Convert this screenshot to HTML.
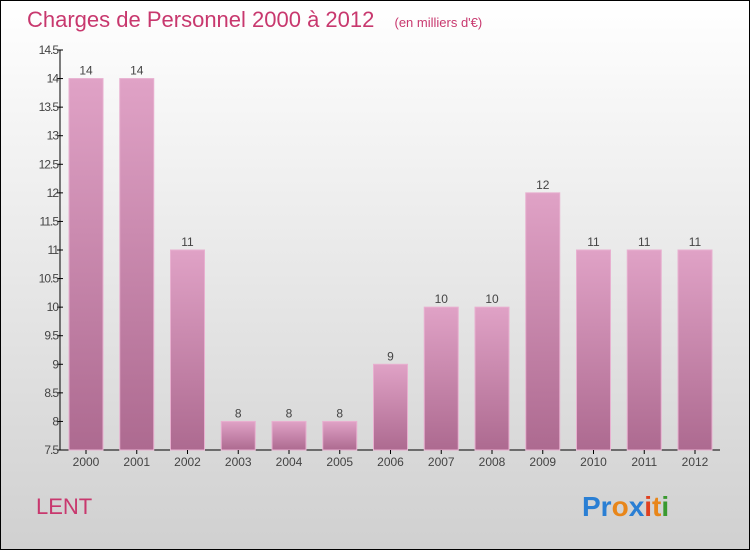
<!DOCTYPE html>
<html><head><meta charset="utf-8"><style>
html,body{margin:0;padding:0}
body{width:750px;height:550px;overflow:hidden;font-family:"Liberation Sans",sans-serif}
</style></head><body>
<svg id="chart" width="750" height="550" xmlns="http://www.w3.org/2000/svg">
<defs>
<linearGradient id="bg" x1="0" y1="0" x2="0" y2="1"><stop offset="0" stop-color="#ffffff"/><stop offset="1" stop-color="#d0d0d0"/></linearGradient>
<linearGradient id="bar" x1="0" y1="0" x2="0" y2="1"><stop offset="0" stop-color="#e0a2c6"/><stop offset="1" stop-color="#ad6a90"/></linearGradient>
</defs>
<rect x="0.5" y="0.5" width="749" height="549" fill="url(#bg)" stroke="#000"/>
<text x="27" y="27" font-size="22" fill="#c8386e">Charges de Personnel 2000 à 2012 <tspan font-size="13" dx="14">(en milliers d'€)</tspan></text>
<g id="plot"></g>
<text x="36" y="514" font-size="22" fill="#c8386e">LENT</text>
<text x="582" y="516" font-size="28" font-weight="bold"><tspan fill="#2a7fd4">Pr</tspan><tspan fill="#e8861a">o</tspan><tspan fill="#2a7fd4">x</tspan><tspan fill="#e04020">i</tspan><tspan fill="#e8861a">t</tspan><tspan fill="#3a9a30">i</tspan></text>
</svg>
<script>
const years=["2000","2001","2002","2003","2004","2005","2006","2007","2008","2009","2010","2011","2012"];
const values=[14,14,11,8,8,8,9,10,10,12,11,11,11];
const yTicks=[7.5,8,8.5,9,9.5,10,10.5,11,11.5,12,12.5,13,13.5,14,14.5];
const NS="http://www.w3.org/2000/svg";
const g=document.getElementById('plot');
const yMin=7.5,yMax=14.5,top0=50,bot=450,left=60,right=720;
const y=v=>bot-(v-yMin)/(yMax-yMin)*(bot-top0);
const step=50.75,x0=86;
const x=i=>x0+i*step;
function mk(t,a){const e=document.createElementNS(NS,t);for(const k in a)e.setAttribute(k,a[k]);g.appendChild(e);return e;}
let ax=mk('line',{x1:left,y1:top0,x2:left,y2:bot,stroke:'#000'});


let bx=mk('line',{x1:left,y1:bot,x2:right,y2:bot,stroke:'#000'});


yTicks.forEach(v=>{
  let t=mk('line',{x1:left-3,y1:y(v),x2:left+3,y2:y(v),stroke:'#000'});
  
  
  let l=mk('text',{x:left-2,y:y(v)+4,'font-size':12,'text-anchor':'end',fill:'#444','letter-spacing':'-1'});
  l.textContent=String(v);
  
  
});
values.forEach((v,i)=>{
  let r=mk('rect',{x:x(i)-17,y:y(v),width:34,height:bot-y(v),fill:'url(#bar)',stroke:'#e8b0d0','stroke-width':1});
  
  
  let t=mk('text',{x:x(i),y:y(v)-4,'font-size':12,'text-anchor':'middle',fill:'#444'});
  t.textContent=String(v);
  
  
  let tk=mk('line',{x1:x(i),y1:bot,x2:x(i),y2:bot+4,stroke:'#000'});
  
  
  let xl=mk('text',{x:x(i),y:bot+16,'font-size':12,'text-anchor':'middle',fill:'#444'});
  xl.textContent=years[i];
  
  
});
</script>
</body></html>
